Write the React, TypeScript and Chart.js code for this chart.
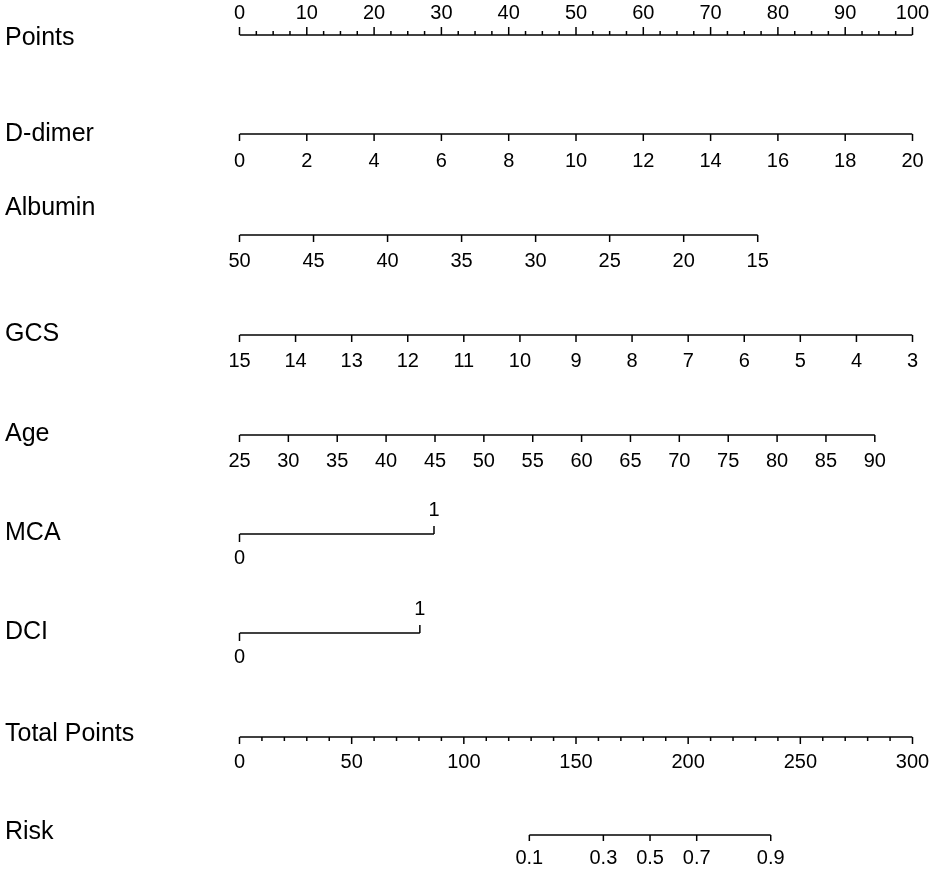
import React, { useEffect, useRef } from "react";
import { Chart, registerables } from "chart.js";

Chart.register(...registerables);

// ---- data ----
const rowNames = ["Points", "D-dimer", "Albumin", "GCS", "Age", "MCA", "DCI", "Total Points", "Risk"];

const pointsTicks = [0, 10, 20, 30, 40, 50, 60, 70, 80, 90, 100];
const pointsMinor = [2.5, 5, 7.5, 12.5, 15, 17.5, 22.5, 25, 27.5, 32.5, 35, 37.5, 42.5, 45, 47.5, 52.5, 55, 57.5, 62.5, 65, 67.5, 72.5, 75, 77.5, 82.5, 85, 87.5, 92.5, 95, 97.5];

const ddimerTicks = [0, 2, 4, 6, 8, 10, 12, 14, 16, 18, 20];
const ddimerPoints = [0, 10, 20, 30, 40, 50, 60, 70, 80, 90, 100];

const albuminTicks = [50, 45, 40, 35, 30, 25, 20, 15];
const albuminPoints = [0, 11, 22, 33, 44, 55, 66, 77];

const gcsTicks = [15, 14, 13, 12, 11, 10, 9, 8, 7, 6, 5, 4, 3];
const gcsPoints = [0, 8.33, 16.67, 25, 33.33, 41.67, 50, 58.33, 66.67, 75, 83.33, 91.67, 100];

const ageTicks = [25, 30, 35, 40, 45, 50, 55, 60, 65, 70, 75, 80, 85, 90];
const agePoints = [0, 7.26, 14.52, 21.78, 29.05, 36.31, 43.57, 50.83, 58.09, 65.35, 72.62, 79.88, 87.14, 94.4];

const mcaTicks = [0, 1];
const mcaPoints = [0, 28.9];

const dciTicks = [0, 1];
const dciPoints = [0, 26.8];

const totalTicks = [0, 50, 100, 150, 200, 250, 300];
const totalMinor = [10, 20, 30, 40, 60, 70, 80, 90, 110, 120, 130, 140, 160, 170, 180, 190, 210, 220, 230, 240, 260, 270, 280, 290];

const riskTicks = ["0.1", "0.3", "0.5", "0.7", "0.9"];
const riskTotalPoints = [129.2, 162.2, 183.0, 203.8, 236.8];

// ---- layout (pixels) ----
const W = 935;
const H = 870;
const rowLineY = [35, 134, 235, 335, 435, 534, 633, 737, 835];
const rowLabelY = [38, 134, 208, 334, 434, 533, 632, 734, 832];
const LABEL_FONT = '25px "Liberation Sans", Arial, sans-serif';
const TICK_FONT = '20px "Liberation Sans", Arial, sans-serif';

type TickSpec = {
  values: number[];
  labels: string[];
  axis: "x" | "xt";
  dir: number[]; // -1 up, +1 down
  len: number;
  labelOffset: number;
};

const tickSpecs: TickSpec[] = [
  { values: pointsTicks, labels: pointsTicks.map(String), axis: "x", dir: pointsTicks.map(() => -1), len: 8, labelOffset: 22 },
  { values: ddimerPoints, labels: ddimerTicks.map(String), axis: "x", dir: ddimerPoints.map(() => 1), len: 7, labelOffset: 27 },
  { values: albuminPoints, labels: albuminTicks.map(String), axis: "x", dir: albuminPoints.map(() => 1), len: 7, labelOffset: 26 },
  { values: gcsPoints, labels: gcsTicks.map(String), axis: "x", dir: gcsPoints.map(() => 1), len: 7, labelOffset: 26 },
  { values: agePoints, labels: ageTicks.map(String), axis: "x", dir: agePoints.map(() => 1), len: 7, labelOffset: 26 },
  { values: mcaPoints, labels: mcaTicks.map(String), axis: "x", dir: [1, -1], len: 8, labelOffset: 24 },
  { values: dciPoints, labels: dciTicks.map(String), axis: "x", dir: [1, -1], len: 8, labelOffset: 24 },
  { values: totalTicks, labels: totalTicks.map(String), axis: "xt", dir: totalTicks.map(() => 1), len: 7, labelOffset: 25 },
  { values: riskTotalPoints, labels: riskTicks, axis: "xt", dir: riskTotalPoints.map(() => 1), len: 6, labelOffset: 23 },
];

const nomogramPlugin = {
  id: "nomogramTicks",
  afterDatasetsDraw(chart: any) {
    const ctx = chart.ctx as CanvasRenderingContext2D;
    const y = chart.scales.y;
    ctx.save();
    ctx.strokeStyle = "#000";
    ctx.fillStyle = "#000";
    ctx.lineWidth = 1.5;
    // row labels
    ctx.font = LABEL_FONT;
    ctx.textAlign = "left";
    ctx.textBaseline = "middle";
    rowNames.forEach((name, i) => {
      ctx.fillText(name, 5, y.getPixelForValue(rowLabelY[i]));
    });
    // ticks
    ctx.font = TICK_FONT;
    ctx.textAlign = "center";
    tickSpecs.forEach((spec, i) => {
      const sc = chart.scales[spec.axis];
      const ly = y.getPixelForValue(rowLineY[i]);
      spec.values.forEach((v, j) => {
        const px = sc.getPixelForValue(v);
        const d = spec.dir[j];
        ctx.beginPath();
        ctx.moveTo(px, ly);
        ctx.lineTo(px, ly + d * spec.len);
        ctx.stroke();
        ctx.fillText(spec.labels[j], px, ly + d * spec.labelOffset);
      });
    });
    // minor ticks
    const minorSets: [number[], "x" | "xt", number, number][] = [
      [pointsMinor, "x", 0, -1],
      [totalMinor, "xt", 7, 1],
    ];
    minorSets.forEach(([vals, axis, row, d]) => {
      const sc = chart.scales[axis];
      const ly = y.getPixelForValue(rowLineY[row]);
      vals.forEach((v) => {
        const px = sc.getPixelForValue(v);
        ctx.beginPath();
        ctx.moveTo(px, ly);
        ctx.lineTo(px, ly + d * 4);
        ctx.stroke();
      });
    });
    ctx.restore();
  },
};

function segment(values: number[], row: number, axis: "x" | "xt") {
  const lo = Math.min(...values);
  const hi = Math.max(...values);
  return {
    data: [
      { x: lo, y: rowLineY[row] },
      { x: hi, y: rowLineY[row] },
    ],
    xAxisID: axis,
    yAxisID: "y",
    showLine: true,
    borderColor: "#000",
    borderWidth: 1.5,
    pointRadius: 0,
    fill: false,
  };
}

export default function App() {
  const ref = useRef<HTMLCanvasElement | null>(null);
  useEffect(() => {
    if (!ref.current) return;
    const chart = new Chart(ref.current, {
      type: "scatter",
      data: {
        datasets: [
          segment(pointsTicks, 0, "x"),
          segment(ddimerPoints, 1, "x"),
          segment(albuminPoints, 2, "x"),
          segment(gcsPoints, 3, "x"),
          segment(agePoints, 4, "x"),
          segment(mcaPoints, 5, "x"),
          segment(dciPoints, 6, "x"),
          segment(totalTicks, 7, "xt"),
          segment(riskTotalPoints, 8, "xt"),
        ] as any,
      },
      options: {
        animation: false,
        responsive: true,
        maintainAspectRatio: false,
        layout: { padding: { left: 239.5, right: W - 912.5, top: 0, bottom: 0 } },
        plugins: { legend: { display: false }, tooltip: { enabled: false } },
        events: [],
        scales: {
          x: { type: "linear", min: 0, max: 100, display: false },
          xt: { type: "linear", axis: "x", min: 0, max: 300, display: false },
          y: { type: "linear", min: 0, max: H, reverse: true, display: false },
        },
      },
      plugins: [nomogramPlugin],
    });
    return () => chart.destroy();
  }, []);
  return (
    <div style={{ position: "fixed", left: 0, top: 0, width: W, height: H, background: "#fff" }}>
      <canvas ref={ref} />
    </div>
  );
}
